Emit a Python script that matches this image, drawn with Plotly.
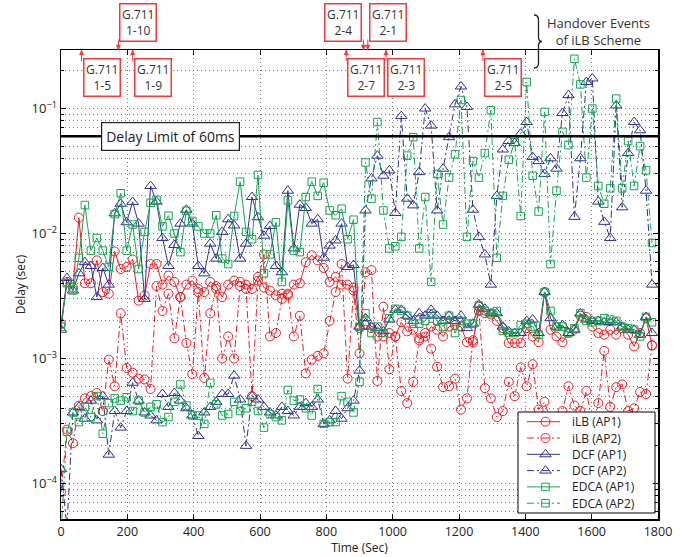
import numpy as np
import plotly.graph_objects as go

# ---------------- data (delay in milliseconds, sampled every 18 s) ----------------
time_s = list(range(0, 1800, 18))

ilb_ap1_ms = [1.9, 4.1, 3.7, 13.4, 4.0, 4.0, 6.1, 3.4, 3.3, 7.2,
              5.2, 5.4, 6.2, 2.9, 3.2, 5.7, 5.7, 3.9, 4.6, 4.1,
              3.1, 3.9, 4.2, 3.6, 3.4, 4.1, 3.8, 3.1, 3.9, 4.2,
              4.1, 3.9, 3.6, 4.5, 3.7, 3.5, 3.2, 3.3, 3.3, 3.9,
              4.0, 5.9, 6.7, 6.1, 5.3, 4.1, 4.5, 3.9, 3.9, 3.7,
              1.75, 1.85, 1.75, 1.5, 1.5, 1.6, 1.5, 1.95, 1.65, 1.7,
              1.45, 1.5, 1.8, 1.7, 1.5, 1.8, 1.85, 1.8, 1.35, 1.35,
              2.6, 2.3, 2.25, 2.0, 1.75, 1.33, 1.33, 1.33, 1.75, 1.5,
              1.35, 3.4, 1.7, 1.5, 1.35, 1.6, 1.7, 2.2, 2.15, 1.8,
              1.6, 1.55, 1.7, 1.55, 1.75, 1.55, 1.25, 1.6, 2.1, 1.27]

ilb_ap2_ms = [0.085, 0.27, 0.21, 0.42, 0.48, 0.5, 0.53, 0.38, 0.98, 0.6,
              2.3, 0.84, 0.77, 0.69, 0.68, 0.57, 3.8, 2.4, 3.3, 1.45,
              3.1, 1.33, 0.75, 3.4, 0.7, 2.3, 3.6, 1.0, 1.5, 1.0,
              3.8, 3.6, 0.5, 4.2, 6.8, 1.5, 1.6, 3.0, 3.2, 1.5,
              2.2, 0.76, 0.98, 1.05, 1.1, 2.0, 3.4, 5.7, 0.69, 3.5,
              1.1, 4.9, 5.1, 0.66, 2.6, 0.82, 1.5, 0.55, 0.44, 0.65,
              1.4, 1.6, 1.2, 0.86, 0.59, 0.6, 0.69, 0.39, 0.48, 1.4,
              2.4, 0.58, 0.48, 0.34, 0.38, 0.65, 0.5, 0.85, 0.6, 0.9,
              0.39, 0.45, 0.32, 0.3, 0.38, 0.6, 0.42, 0.38, 0.55, 0.3,
              0.44, 1.15, 0.41, 0.59, 0.62, 0.38, 0.4, 0.54, 0.52, 1.28]

dcf_ap1_ms = [1.7, 4.4, 3.5, 4.8, 5.9, 5.5, 3.1, 5.3, 3.9, 14.5,
              17.3, 12.3, 17.9, 12.0, 3.0, 24.0, 18.0, 9.2, 5.5, 8.1,
              12.0, 15.5, 12.0, 5.5, 4.8, 8.3, 6.3, 10.3, 13.0, 11.6,
              6.3, 8.3, 19.6, 13.5, 9.6, 11.5, 5.5, 4.9, 22.0, 7.6,
              17.0, 16.0, 12.0, 13.0, 6.4, 8.0, 8.8, 12.0, 5.4, 5.6,
              1.8, 2.1, 1.8, 1.75, 1.65, 2.05, 2.45, 2.45, 2.2, 2.0,
              2.3, 2.2, 2.45, 2.2, 2.0, 2.2, 2.0, 2.2, 1.75, 1.9,
              2.7, 2.5, 2.3, 2.3, 1.8, 1.65, 1.6, 1.6, 2.0, 2.05,
              1.6, 3.4, 2.1, 1.8, 1.85, 1.6, 1.7, 2.3, 2.05, 2.0,
              2.0, 1.95, 1.95, 1.95, 1.8, 1.7, 1.7, 1.55, 2.15, 1.6]

dcf_ap2_ms = [0.13, 0.045, 0.37, 0.41, 0.33, 0.46, 0.32, 0.5, 0.17, 0.38,
              0.28, 0.38, 0.64, 0.46, 0.37, 0.35, 0.32, 0.52, 0.41, 0.53,
              0.46, 0.4, 0.35, 0.24, 0.37, 0.41, 0.45, 0.52, 0.52, 0.73,
              0.47, 0.2, 0.5, 0.47, 0.41, 0.37, 0.35, 0.41, 0.38, 0.35,
              0.41, 0.44, 0.41, 0.47, 0.3, 0.32, 0.38, 0.33, 0.4, 0.46,
              0.8, 15.3, 27.6, 42.0, 29.0, 32.0, 14.6, 87.0, 19.0, 16.8,
              31.0, 100.0, 73.0, 15.3, 33.0, 59.0, 108.0, 150.0, 103.0, 15.5,
              9.4, 6.8, 3.9, 20.0, 47.0, 55.0, 53.0, 63.0, 78.0, 41.0,
              38.0, 30.0, 40.0, 33.0, 92.0, 128.0, 13.6, 40.0, 163.0, 174.0,
              18.0, 12.4, 9.2, 106.0, 16.2, 44.0, 78.0, 67.0, 22.0, 3.9]

edca_ap1_ms = [1.8, 4.0, 3.5, 6.4, 16.9, 7.3, 9.2, 7.3, 5.4, 14.3,
               21.0, 7.3, 11.8, 5.2, 10.3, 17.6, 18.6, 11.4, 13.9, 10.0,
               7.1, 15.2, 12.6, 11.4, 10.0, 10.0, 14.0, 6.3, 5.7, 13.8,
               26.0, 10.3, 9.0, 29.4, 4.8, 6.8, 12.3, 4.1, 18.4, 7.3,
               7.1, 19.6, 26.0, 20.0, 25.5, 15.3, 14.0, 15.8, 9.0, 12.9,
               1.8, 2.3, 1.6, 1.8, 1.6, 2.1, 2.5, 2.4, 2.2, 1.9,
               1.9, 2.0, 2.3, 2.0, 1.8, 2.2, 1.6, 2.0, 1.9, 1.9,
               2.65, 2.4, 2.3, 2.4, 1.66, 1.6, 1.6, 1.85, 1.9, 1.8,
               1.55, 3.4, 2.4, 1.8, 1.8, 1.6, 1.75, 2.3, 2.0, 1.95,
               2.0, 2.1, 2.05, 2.0, 1.8, 1.75, 1.7, 1.5, 2.15, 1.95]

edca_ap2_ms = [0.04, 0.26, 0.37, 0.31, 0.41, 0.34, 0.5, 0.25, 0.44, 0.48,
               0.46, 0.49, 0.38, 0.46, 0.37, 0.41, 0.43, 0.31, 0.34, 0.45,
               0.62, 0.42, 0.35, 0.35, 0.3, 0.64, 0.43, 0.35, 0.36, 0.45,
               0.38, 0.4, 0.45, 0.38, 0.28, 0.36, 0.34, 0.32, 0.56, 0.46,
               0.47, 0.4, 0.35, 0.57, 0.3, 0.31, 0.31, 0.5, 0.45, 0.37,
               0.65, 37.0, 19.0, 78.0, 15.3, 7.6, 7.9, 9.4, 42.0, 59.0,
               7.6, 19.6, 4.1, 30.0, 11.8, 28.0, 43.0, 117.0, 9.4, 38.0,
               28.0, 44.0, 97.0, 6.4, 20.0, 39.0, 54.0, 13.8, 163.0, 29.0,
               15.0, 94.0, 5.7, 22.0, 65.0, 51.0, 250.0, 156.0, 28.0, 100.0,
               24.0, 17.3, 23.0, 120.0, 23.0, 55.0, 24.0, 50.0, 32.0, 8.4]

delay_limit_s = 0.06

# handover events of the iLB scheme (label, time in s)
handover_labels = ["1-5", "1-10", "1-9", "2-7", "2-4", "2-1", "2-3", "2-5"]
handover_times = [62, 173, 216, 860, 912, 925, 980, 1272]

x_ticks = list(range(0, 1801, 200))
y_ticks = [1e-4, 1e-3, 1e-2, 1e-1]
y_ticktext = ["10<sup>\u22124</sup>", "10<sup>\u22123</sup>", "10<sup>\u22122</sup>", "10<sup>\u22121</sup>"]

# ---------------- styling ----------------
FONT = "Open Sans"
RED = "#ec1c24"
BLUE = "#2e3192"
GREEN = "#12a64c"
BOXRED = "#ef3b3b"
DASH = "7px,3px,2px,3px"
GRID = "#7a7a7a"
GDASH = "1px,3px"

W, H = 682, 557
PL, PR, PT, PB = 61, 658, 50, 519   # plot area in pixels


def to_s(vals):
    return [v / 1000.0 for v in vals]


def t2px(t):
    return PL + t / 1800.0 * (PR - PL)


def px2t(px):
    return (px - PL) / (PR - PL) * 1800.0


def px2paper(px):
    return (px - PL) / (PR - PL)


def py2paper(py):
    return (PB - py) / (PB - PT)


series = [
    ("iLB (AP1)", ilb_ap1_ms, RED, "circle-open", 9, "solid"),
    ("iLB (AP2)", ilb_ap2_ms, RED, "circle-open", 9, DASH),
    ("DCF (AP1)", dcf_ap1_ms, BLUE, "triangle-up-open", 10, "solid"),
    ("DCF (AP2)", dcf_ap2_ms, BLUE, "triangle-up-open", 10, DASH),
    ("EDCA (AP1)", edca_ap1_ms, GREEN, "square-open", 7.5, "solid"),
    ("EDCA (AP2)", edca_ap2_ms, GREEN, "square-open", 7.5, DASH),
]

fig = go.Figure()
for name, vals, col, sym, size, dash in series:
    fig.add_trace(go.Scatter(
        x=time_s, y=to_s(vals), name=name, mode="lines+markers",
        line=dict(color=col, width=1, dash=dash),
        marker=dict(symbol=sym, size=size, color=col, line=dict(color=col, width=1)),
    ))

# delay-limit line
fig.add_trace(go.Scatter(
    x=[0, 1800], y=[delay_limit_s, delay_limit_s], mode="lines",
    line=dict(color="black", width=2.6), showlegend=False, hoverinfo="skip",
))

# ---------------- legend drawn on an overlay axis in pixel units ----------------
LG_L, LG_R, LG_T, LG_B = 518, 655, 412, 513
fig.add_trace(go.Scatter(
    x=[LG_L, LG_R, LG_R, LG_L, LG_L], y=[LG_T, LG_T, LG_B, LG_B, LG_T],
    xaxis="x2", yaxis="y2", mode="lines", fill="toself", fillcolor="white",
    line=dict(color="black", width=1), showlegend=False, hoverinfo="skip",
))
annotations = []
row_y = [421.7, 438.0, 454.3, 470.6, 486.9, 503.2]
for (name, vals, col, sym, size, dash), ry in zip(series, row_y):
    fig.add_trace(go.Scatter(
        x=[527, 560], y=[ry, ry], xaxis="x2", yaxis="y2", mode="lines",
        line=dict(color=col, width=1, dash=dash), showlegend=False, hoverinfo="skip",
    ))
    fig.add_trace(go.Scatter(
        x=[545.5], y=[ry], xaxis="x2", yaxis="y2", mode="markers",
        marker=dict(symbol=sym, size=size, color=col, line=dict(color=col, width=1)),
        showlegend=False, hoverinfo="skip",
    ))
    annotations.append(dict(
        x=px2paper(570), y=py2paper(ry), xref="paper", yref="paper", text=name,
        showarrow=False, xanchor="left", yanchor="middle",
        font=dict(family=FONT, size=12, color="#222"),
    ))

# delay limit label
annotations.append(dict(
    x=px2t(170.5), y=np.log10(delay_limit_s), xref="x", yref="y",
    text="Delay Limit of 60ms", showarrow=False,
    font=dict(family=FONT, size=14, color="#222"),
    bgcolor="white", bordercolor="#222", borderwidth=1.2, borderpad=4,
    xanchor="center", yanchor="middle",
))

shapes = []
# handover event boxes and arrows
upper = {"1-10", "2-4", "2-1"}
box_left_of_arrow = {"2-4"}
BOX_W = 40
for lab, t in zip(handover_labels, handover_times):
    apx = t2px(t)
    cx = apx - BOX_W / 2 if lab in box_left_of_arrow else apx + BOX_W / 2
    if lab in upper:
        cy, tail, hb = 22.5, 39.5, 45.0
    else:
        cy, tail, hb = 77.5, 61.0, 55.0
    annotations.append(dict(
        x=px2paper(cx), y=py2paper(cy), xref="paper", yref="paper",
        text="G.711<br>" + lab, showarrow=False,
        font=dict(family=FONT, size=12, color="#333"),
        bgcolor="white", bordercolor=BOXRED, borderwidth=1.5, borderpad=1.5,
        xanchor="center", yanchor="middle",
    ))
    shapes.append(dict(type="line", xref="paper", yref="paper",
                       x0=px2paper(apx), x1=px2paper(apx), y0=py2paper(tail), y1=py2paper(PT),
                       line=dict(color=BOXRED, width=1)))
    tri = [(apx - 2.2, hb), (apx + 2.2, hb), (apx, PT)]
    tp = "M {} {} L {} {} L {} {} Z".format(*[v for p in tri for v in (px2paper(p[0]), py2paper(p[1]))])
    shapes.append(dict(type="path", path=tp, xref="paper", yref="paper",
                       fillcolor=BOXRED, line=dict(color=BOXRED, width=0.5)))

annotations.append(dict(
    x=px2paper(598.5), y=py2paper(32), xref="paper", yref="paper",
    text="Handover Events<br>of iLB Scheme", showarrow=False,
    font=dict(family=FONT, size=13, color="#333"),
    xanchor="center", yanchor="middle",
))

# curly brace
bp = [(534, 15), (538.5, 15), (538.5, 20), (538.5, 37), (538.5, 41.5), (542, 41.5),
      (538.5, 41.5), (538.5, 46), (538.5, 63), (538.5, 68), (534, 68)]
P = [(px2paper(a), py2paper(b)) for a, b in bp]
path = ("M {0[0]},{0[1]} Q {1[0]},{1[1]} {2[0]},{2[1]} L {3[0]},{3[1]} "
        "Q {4[0]},{4[1]} {5[0]},{5[1]} Q {6[0]},{6[1]} {7[0]},{7[1]} "
        "L {8[0]},{8[1]} Q {9[0]},{9[1]} {10[0]},{10[1]}").format(*P)
shapes.append(dict(type="path", path=path, xref="paper", yref="paper",
                   line=dict(color="#222", width=1.3)))

minor_vals = [m * 10.0 ** e for e in range(-5, 0) for m in range(2, 10)]

fig.update_layout(
    width=W, height=H, showlegend=False,
    margin=dict(l=PL, r=W - PR, t=PT, b=H - PB, pad=0),
    paper_bgcolor="white", plot_bgcolor="white",
    font=dict(family=FONT, size=12, color="#222"),
    annotations=annotations, shapes=shapes,
    xaxis=dict(
        range=[0, 1800], tickvals=x_ticks, ticks="inside", ticklen=5, tickcolor="black",
        showline=True, linecolor="black", linewidth=1.5, mirror="ticks",
        showgrid=True, gridcolor=GRID, griddash=GDASH, gridwidth=1, zeroline=False,
        tickfont=dict(size=12.5), automargin=False,
        title=dict(text="Time (Sec)", standoff=4, font=dict(size=12)),
    ),
    yaxis=dict(
        type="log", range=[np.log10(5.2e-5), np.log10(0.294)],
        tickvals=y_ticks, ticktext=y_ticktext, ticks="inside", ticklen=5, tickcolor="black",
        showline=True, linecolor="black", linewidth=1.5, mirror="ticks",
        showgrid=True, gridcolor=GRID, griddash=GDASH, gridwidth=1, zeroline=False,
        tickfont=dict(size=13), automargin=False,
        minor=dict(tickvals=minor_vals, ticks="inside", ticklen=3, tickcolor="black",
                   showgrid=True, gridcolor=GRID, griddash=GDASH, gridwidth=1),
        title=dict(text="Delay (sec)", standoff=3, font=dict(size=12)),
    ),
    xaxis2=dict(range=[PL, PR], overlaying="x", visible=False, fixedrange=True),
    yaxis2=dict(range=[PB, PT], overlaying="y", visible=False, fixedrange=True),
)

fig.write_html("out.html", config={"displayModeBar": False, "staticPlot": True},
               post_script="document.body.style.margin='0';document.body.style.padding='0';")
